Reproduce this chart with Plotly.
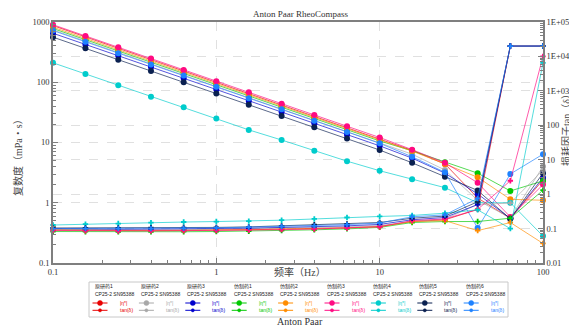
import plotly.graph_objects as go

# ---------------- data ----------------
freq = [0.1, 0.158, 0.251, 0.398, 0.631, 1.0, 1.58, 2.51, 3.98, 6.31, 10.0, 15.8, 25.1, 39.8, 63.1, 100.0]

names = ["原研药1", "原研药2", "原研药3", "仿制药1", "仿制药2", "仿制药3", "仿制药4", "仿制药5", "仿制药6"]
colors = ["#E80000", "#A8A8A8", "#0000CC", "#00C800", "#FF8C00", "#FF0A82", "#00CCCC", "#0A2050", "#1E82FF"]
device = "CP25-2 SN95388"

eta_red    = [870, 565, 367, 238, 155, 100, 65, 42.3, 27.5, 17.9, 11.6, 7.4, 4.4, 1.2, 0.55, 2.4]
eta_gray   = [740, 482, 313, 204, 133, 86, 56, 36.5, 23.7, 15.4, 10.0, 6.4, 3.5, 1.1, 0.56, 4.0]
eta_blue   = [650, 423, 275, 179, 116, 75.5, 49, 32, 20.8, 13.5, 8.8, 5.5, 3.1, 1.4, 0.55, 2.6]
eta_green  = [780, 508, 330, 215, 140, 91, 59, 38.5, 25, 16.3, 10.6, 7.3, 4.7, 3.1, 1.57, 2.3]
eta_orange = [820, 535, 348, 226, 147, 96, 62, 40.5, 26.3, 17.1, 11.2, 7.2, 4.4, 2.65, 1.14, 1.1]
eta_pink   = [900, 585, 380, 247, 160, 104, 68, 44, 28.6, 18.6, 12.1, 7.6, 4.6, 2.15, 0.58, 2.0]
eta_cyan   = [210, 137, 89, 57.5, 38.4, 25, 16.2, 11, 7.3, 4.9, 3.4, 2.45, 1.78, 1.0, 1.0, 0.28]
eta_navy   = [560, 365, 237, 154, 100, 65, 42.3, 27.5, 17.9, 11.6, 7.5, 4.6, 2.7, 1.6, 0.54, 3.1]
eta_lblue  = [720, 468, 304, 198, 129, 84, 54.5, 35.5, 23, 15, 9.7, 5.8, 3.2, 0.38, 3.0, 6.4]

tan_red    = [0.093, 0.09, 0.089, 0.089, 0.089, 0.09, 0.092, 0.097, 0.1, 0.105, 0.115, 0.16, 0.18, 0.36, 20000, 20000]
tan_gray   = [0.095, 0.092, 0.09, 0.09, 0.092, 0.095, 0.098, 0.102, 0.107, 0.112, 0.122, 0.16, 0.19, 0.5, 0.55, 5.0]
tan_blue   = [0.1, 0.097, 0.096, 0.097, 0.098, 0.1, 0.103, 0.108, 0.113, 0.12, 0.132, 0.18, 0.21, 0.5, 20000, 20000]
tan_green  = [0.082, 0.081, 0.08, 0.08, 0.081, 0.082, 0.084, 0.088, 0.092, 0.098, 0.108, 0.15, 0.16, 0.16, 0.2, 1.3]
tan_orange = [0.09, 0.088, 0.087, 0.087, 0.088, 0.09, 0.092, 0.096, 0.1, 0.105, 0.113, 0.16, 0.17, 0.087, 0.15, 0.037]
tan_pink   = [0.088, 0.086, 0.085, 0.086, 0.087, 0.088, 0.09, 0.093, 0.097, 0.103, 0.113, 0.17, 0.19, 0.36, 2.45, 10000]
tan_cyan   = [0.127, 0.135, 0.14, 0.148, 0.155, 0.16, 0.165, 0.175, 0.19, 0.21, 0.225, 0.24, 0.28, 0.35, 0.1, 6500]
tan_navy   = [0.104, 0.104, 0.105, 0.106, 0.107, 0.108, 0.112, 0.12, 0.13, 0.137, 0.15, 0.2, 0.23, 0.6, 20000, 20000]
tan_lblue  = [0.1, 0.1, 0.1, 0.1, 0.102, 0.105, 0.11, 0.115, 0.12, 0.13, 0.145, 0.22, 0.25, 0.75, 20000, 20000]

eta_all = [eta_red, eta_gray, eta_blue, eta_green, eta_orange, eta_pink, eta_cyan, eta_navy, eta_lblue]
tan_all = [tan_red, tan_gray, tan_blue, tan_green, tan_orange, tan_pink, tan_cyan, tan_navy, tan_lblue]

x_ticks = [0.1, 1, 10, 100]
x_ticktext = ["0.1", "1", "10", "100"]
y_ticks = [0.1, 1, 10, 100, 1000]
y_ticktext = ["0.1", "1", "10", "100", "1000"]
y2_ticks = [0.01, 0.1, 1, 10, 100, 1000, 10000, 100000]
y2_ticktext = ["0.01", "0.1", "1", "10", "100", "1E+03", "1E+04", "1E+05"]

# ---------------- figure ----------------
OFF = 8                      # page body margin
W, H = 577 - OFF, 326 - OFF
L, R, T, B = 53 - OFF, 543 - OFF, 22 - OFF, 263 - OFF

def hexrgba(h, a):
    h = h.lstrip("#")
    return "rgba(%d,%d,%d,%.2f)" % (int(h[0:2], 16), int(h[2:4], 16), int(h[4:6], 16), a)

fig = go.Figure()
for i, nm in enumerate(names):
    c = colors[i]
    fig.add_trace(go.Scatter(x=freq, y=tan_all[i], yaxis="y2", mode="lines+markers",
                             line=dict(color=hexrgba(c, 0.75), width=0.9),
                             marker=dict(color=c, size=4.5, symbol="cross", line=dict(width=0)),
                             cliponaxis=False, showlegend=False, name=nm + " tan(δ)"))
for i, nm in enumerate(names):
    c = colors[i]
    fig.add_trace(go.Scatter(x=freq, y=eta_all[i], mode="lines+markers",
                             line=dict(color=hexrgba(c, 0.75), width=0.9),
                             marker=dict(color=c, size=6, symbol="circle", line=dict(width=0)),
                             cliponaxis=False, showlegend=False, name=nm + " |η*|"))

serif = "Liberation Serif, Noto Sans CJK SC"
sans = "Liberation Sans, Noto Sans CJK SC"
axcol = "#7F7F7F"
gridcol = "#E0E0E0"
tickfont = dict(family=serif, size=8.5, color="#333")

common = dict(showline=True, linecolor=axcol, linewidth=1.5, ticks="inside", ticklen=5, tickcolor=axcol,
              tickfont=tickfont, showgrid=True, gridcolor=gridcol, griddash="dash", gridwidth=1,
              zeroline=False, automargin=False,
              minor=dict(dtick="D1", ticks="inside", ticklen=3, tickcolor=axcol, showgrid=False))

fig.update_layout(
    width=W, height=H,
    margin=dict(l=L, r=W - R, t=T, b=H - B, autoexpand=False),
    paper_bgcolor="white", plot_bgcolor="white",
    showlegend=False,
    xaxis=dict(type="log", range=[-1, 2], mirror=True, tickvals=x_ticks, ticktext=x_ticktext, **common),
    yaxis=dict(type="log", range=[-1, 3], tickvals=y_ticks, ticktext=y_ticktext, **common),
    yaxis2=dict(type="log", range=[-2, 5], overlaying="y", side="right",
                tickvals=y2_ticks, ticktext=y2_ticktext, **common),
)

# reference-pixel -> paper coordinates
def px(x):
    return (x - OFF - L) / (R - L)

def py(y):
    return (B - (y - OFF)) / (B - T)

ann = []
shapes = []

def text(t, x, y, size, fam, color, xa="center", angle=0):
    ann.append(dict(text=t, x=px(x), y=py(y), xref="paper", yref="paper", xanchor=xa, yanchor="middle",
                    textangle=angle, showarrow=False, font=dict(family=fam, size=size, color=color)))

text("Anton Paar RheoCompass", 300, 14, 9, serif, "#333")
text("频率（Hz）", 300, 272, 10, serif, "#444")
text("复数度（mPa・s）", 18, 155, 10, serif, "#444", angle=-90)
text("损耗因子tan（δ）", 566, 128, 10, serif, "#444", angle=-90)
text("Anton Paar", 300, 321, 10, serif, "#333")

# legend box
shapes.append(dict(type="rect", xref="paper", yref="paper", x0=px(89), x1=px(508), y0=py(282), y1=py(317),
                   line=dict(color="#C8C8C8", width=1), fillcolor="white", layer="above"))
for i, nm in enumerate(names):
    x0 = 92.5 + 46.4 * i
    c = colors[i]
    text(nm, x0, 286.7, 5, sans, "#222", xa="left")
    text(device, x0, 294.3, 5, sans, "#222", xa="left")
    for yy, lab, r in [(303, "|η*|", 2.5), (310.3, "tan(δ)", 1.6)]:
        shapes.append(dict(type="line", xref="paper", yref="paper", x0=px(x0), x1=px(x0 + 15),
                           y0=py(yy), y1=py(yy), line=dict(color=c, width=1), layer="above"))
        shapes.append(dict(type="circle", xref="paper", yref="paper", x0=px(x0 + 7.5 - r), x1=px(x0 + 7.5 + r),
                           y0=py(yy + r), y1=py(yy - r), line=dict(color=c, width=0.5), fillcolor=c, layer="above"))
        text(lab, x0 + 25, yy, 5, sans, c, xa="left")

fig.update_layout(annotations=ann, shapes=shapes)
fig.write_html("out.html")
